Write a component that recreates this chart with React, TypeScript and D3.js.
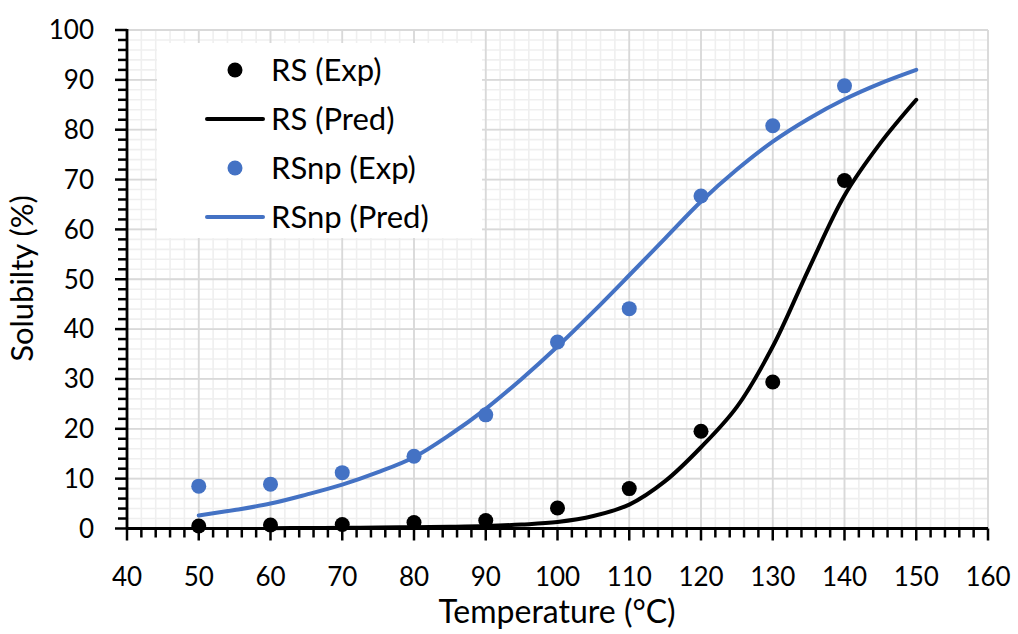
import React from "react";
import * as d3 from "d3";

// ---- data ----
const expTemps = [50, 60, 70, 80, 90, 100, 110, 120, 130, 140];
const rsExp = [0.5, 0.7, 0.8, 1.2, 1.6, 4.1, 8.0, 19.5, 29.4, 69.8];
const rsnpExp = [8.5, 8.9, 11.2, 14.5, 22.8, 37.4, 44.1, 66.7, 80.8, 88.8];

const rsPredTemps = [60, 65, 70, 75, 80, 85, 90, 95, 100, 105, 110, 115, 120, 125, 130, 135, 140, 145, 150];
const rsPred = [0.05, 0.1, 0.15, 0.2, 0.25, 0.35, 0.5, 0.8, 1.3, 2.5, 4.8, 9.5, 16.3, 24.4, 36.5, 52.0, 66.8, 77.3, 86.0];

const rsnpPredTemps = [50, 55, 60, 65, 70, 75, 80, 85, 90, 95, 100, 105, 110, 115, 120, 125, 130, 135, 140, 145, 150];
const rsnpPred = [2.6, 3.7, 5.0, 6.8, 8.8, 11.3, 14.3, 18.8, 24.0, 30.0, 36.5, 43.5, 50.8, 58.2, 65.6, 72.0, 77.6, 82.2, 86.1, 89.3, 92.0];

const xTicks = [40, 50, 60, 70, 80, 90, 100, 110, 120, 130, 140, 150, 160];
const yTicks = [0, 10, 20, 30, 40, 50, 60, 70, 80, 90, 100];

const legendItems = [
  { label: "RS (Exp)", kind: "dot", color: "#000000" },
  { label: "RS (Pred)", kind: "line", color: "#000000" },
  { label: "RSnp (Exp)", kind: "dot", color: "#4472C4" },
  { label: "RSnp (Pred)", kind: "line", color: "#4472C4" },
];

const FONT = "Lato, 'Open Sans', sans-serif";

export default function App() {
  const W = 1018, H = 634;
  const x = d3.scaleLinear().domain([40, 160]).range([127, 988]);
  const y = d3.scaleLinear().domain([0, 100]).range([528.5, 30]);

  const minorX = d3.range(40, 160.01, 2);
  const minorY = d3.range(0, 100.01, 2);

  const line = d3
    .line<[number, number]>()
    .x((d) => x(d[0]))
    .y((d) => y(d[1]))
    .curve(d3.curveCatmullRom.alpha(0.5));

  const rsPath = line(rsPredTemps.map((t, i) => [t, rsPred[i]] as [number, number])) || "";
  const rsnpPath = line(rsnpPredTemps.map((t, i) => [t, rsnpPred[i]] as [number, number])) || "";

  const x0 = x(40), x1 = x(160), y0 = y(0), y1 = y(100);

  return (
    <svg width={W} height={H} style={{ position: "absolute", left: 0, top: 0, background: "#fff" }} fontFamily={FONT}>
      <rect x={0} y={0} width={W} height={H} fill="#fff" />
      {/* minor grid */}
      {minorX.map((v) => (
        <line key={"mx" + v} x1={x(v)} x2={x(v)} y1={y1} y2={y0} stroke="#efefef" strokeWidth={1.6} />
      ))}
      {minorY.map((v) => (
        <line key={"my" + v} x1={x0} x2={x1} y1={y(v)} y2={y(v)} stroke="#efefef" strokeWidth={1.6} />
      ))}
      {/* major grid */}
      {xTicks.map((v) => (
        <line key={"gx" + v} x1={x(v)} x2={x(v)} y1={y1} y2={y0} stroke="#d9d9d9" strokeWidth={1.8} />
      ))}
      {yTicks.map((v) => (
        <line key={"gy" + v} x1={x0} x2={x1} y1={y(v)} y2={y(v)} stroke="#d9d9d9" strokeWidth={1.8} />
      ))}

      {/* series */}
      <path d={rsnpPath} fill="none" stroke="#4472C4" strokeWidth={4} strokeLinecap="round" strokeLinejoin="round" />
      <path d={rsPath} fill="none" stroke="#000" strokeWidth={4} strokeLinecap="round" strokeLinejoin="round" />
      {expTemps.map((t, i) => (
        <circle key={"b" + t} cx={x(t)} cy={y(rsnpExp[i])} r={7.5} fill="#4472C4" />
      ))}
      {expTemps.map((t, i) => (
        <circle key={"k" + t} cx={x(t)} cy={y(rsExp[i])} r={7.5} fill="#000" />
      ))}

      {/* axes */}
      {minorX.map((v) => (
        <line key={"tx" + v} x1={x(v)} x2={x(v)} y1={y0} y2={y0 + (v % 10 === 0 ? 12 : 9)} stroke="#000" strokeWidth={2.5} />
      ))}
      {minorY.map((v) => (
        <line key={"ty" + v} x1={x0} x2={x0 - (v % 10 === 0 ? 12 : 9)} y1={y(v)} y2={y(v)} stroke="#000" strokeWidth={2.5} />
      ))}
      <line x1={x0} x2={x1} y1={y0} y2={y0} stroke="#000" strokeWidth={2.8} />
      <line x1={x0} x2={x0} y1={y1 - 1} y2={y0} stroke="#000" strokeWidth={2.8} />

      {xTicks.map((v) => (
        <text key={"lx" + v} x={x(v)} y={586} textAnchor="middle" fontSize={26} fill="#000">
          {v}
        </text>
      ))}
      {yTicks.map((v) => (
        <text key={"ly" + v} x={94} y={y(v)} dy="0.36em" textAnchor="end" fontSize={26} fill="#000">
          {v}
        </text>
      ))}

      <text x={557} y={623} textAnchor="middle" fontSize={32} fill="#000">
        Temperature (°C)
      </text>
      <text transform={`translate(33,278.5) rotate(-90)`} textAnchor="middle" fontSize={31} fill="#000">
        Solubilty (%)
      </text>

      {/* legend */}
      <rect x={157} y={43} width={325} height={195} fill="#fff" />
      {legendItems.map((it, i) => {
        const cy = 70 + i * 49;
        return (
          <g key={it.label}>
            {it.kind === "dot" ? (
              <circle cx={235} cy={cy} r={7.5} fill={it.color} />
            ) : (
              <line x1={207} x2={263} y1={cy} y2={cy} stroke={it.color} strokeWidth={4} strokeLinecap="round" />
            )}
            <text x={271} y={cy} dy="0.36em" fontSize={31} fill="#000">
              {it.label}
            </text>
          </g>
        );
      })}
    </svg>
  );
}
